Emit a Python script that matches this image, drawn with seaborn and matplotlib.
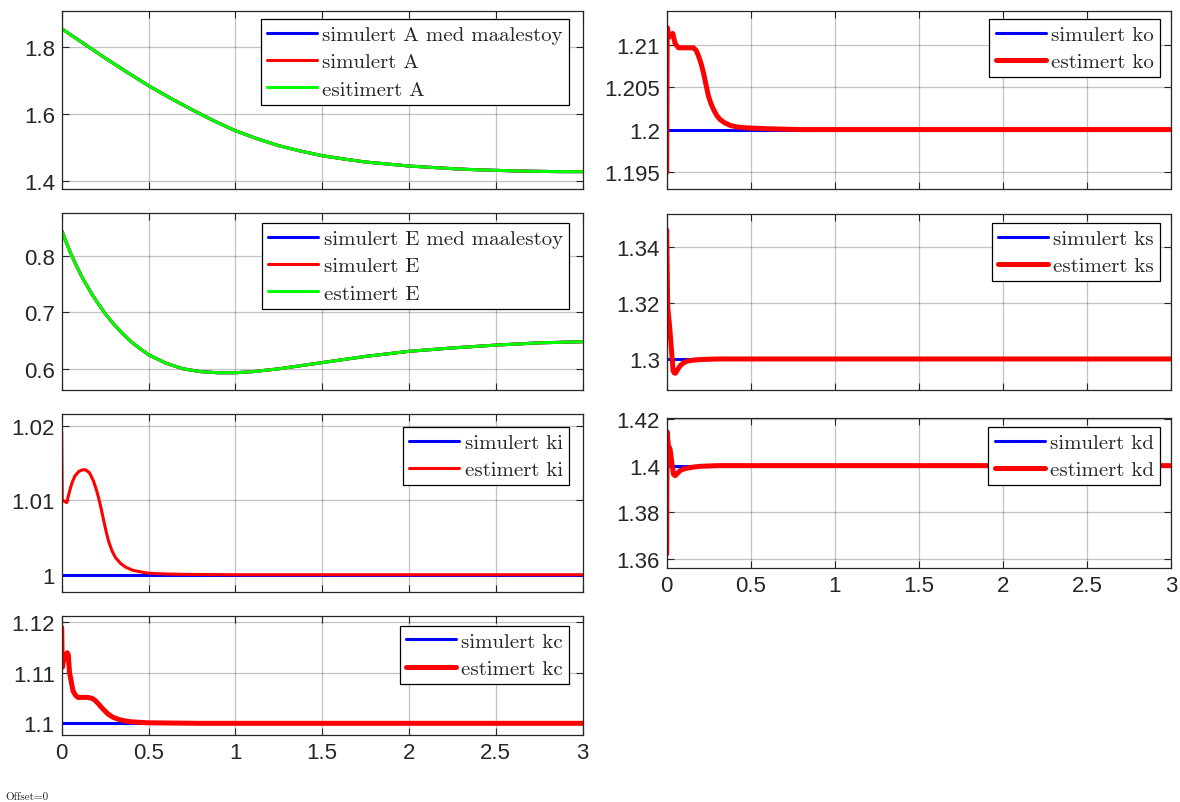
import numpy as np
import pandas as pd
import matplotlib
matplotlib.use("Agg")
import matplotlib.pyplot as plt
import seaborn as sns

# --- data ---
t_A = [0, 0.125, 0.25, 0.375, 0.5, 0.625, 0.75, 0.875, 1.0, 1.125, 1.25, 1.375, 1.5,
       1.625, 1.75, 1.875, 2.0, 2.125, 2.25, 2.375, 2.5, 2.625, 2.75, 2.875, 3.0]
A_est = [1.856, 1.812, 1.768, 1.726, 1.685, 1.648, 1.613, 1.580, 1.550, 1.526, 1.505, 1.489, 1.475,
         1.465, 1.456, 1.450, 1.444, 1.440, 1.436, 1.433, 1.431, 1.429, 1.428, 1.427, 1.427]
A_sim = A_est
A_meas = A_est

t_E = [0, 0.025, 0.05, 0.075, 0.1, 0.125, 0.15, 0.175, 0.2, 0.25, 0.3, 0.35, 0.4, 0.45, 0.5,
       0.6, 0.7, 0.8, 0.9, 1.0, 1.1, 1.25, 1.5, 1.75, 2.0, 2.25, 2.5, 2.75, 3.0]
E_est = [0.845, 0.825, 0.806, 0.789, 0.773, 0.758, 0.745, 0.732, 0.720, 0.698, 0.679, 0.663,
         0.648, 0.636, 0.625, 0.610, 0.600, 0.595, 0.593, 0.593, 0.595, 0.600, 0.611, 0.622,
         0.631, 0.637, 0.642, 0.646, 0.648]
E_sim = E_est
E_meas = E_est

t_ki = [0, 0.003, 0.012, 0.029, 0.045, 0.06, 0.077, 0.1, 0.12, 0.138, 0.16, 0.183, 0.2, 0.212,
        0.226, 0.24, 0.255, 0.27, 0.29, 0.31, 0.34, 0.37, 0.41, 0.45, 0.5, 0.6, 0.7, 1.0, 3.0]
ki_est = [1.0192, 1.0101, 1.0099, 1.0097, 1.0112, 1.0124, 1.0133, 1.0139, 1.0141, 1.0141,
          1.0137, 1.0126, 1.0114, 1.0104, 1.0090, 1.0075, 1.0059, 1.0045, 1.0032, 1.0023,
          1.0015, 1.0010, 1.0006, 1.0004, 1.0002, 1.0001, 1.00005, 1.0, 1.0]

t_kc = [0, 0.003, 0.017, 0.032, 0.038, 0.045, 0.055, 0.065, 0.08, 0.094, 0.12, 0.152, 0.175,
        0.19, 0.21, 0.23, 0.25, 0.268, 0.295, 0.326, 0.36, 0.4, 0.45, 0.5, 0.8, 3.0]
kc_est = [1.1189, 1.1110, 1.1133, 1.1139, 1.1135, 1.1100, 1.1082, 1.1064, 1.1055, 1.1051,
          1.1051, 1.1051, 1.1049, 1.1046, 1.1039, 1.1031, 1.1024, 1.1018, 1.1012, 1.1008,
          1.1005, 1.1003, 1.1002, 1.1001, 1.1, 1.1]

t_ko = [0, 0.003, 0.015, 0.036, 0.05, 0.07, 0.1, 0.13, 0.159, 0.175, 0.19, 0.205, 0.218, 0.233,
        0.248, 0.263, 0.278, 0.297, 0.317, 0.345, 0.377, 0.42, 0.476, 0.6, 0.8, 3.0]
ko_est = [1.1949, 1.2121, 1.2110, 1.2114, 1.2102, 1.2097, 1.2097, 1.2097, 1.2097, 1.2094,
          1.2087, 1.2078, 1.2068, 1.2054, 1.2040, 1.2031, 1.2024, 1.2017, 1.2012, 1.2008,
          1.2005, 1.2003, 1.2002, 1.2001, 1.2, 1.2]

t_ks = [0, 0.006, 0.018, 0.028, 0.038, 0.045, 0.052, 0.065, 0.08, 0.1, 0.12, 0.16, 0.2, 0.3, 3.0]
ks_est = [1.3462, 1.3186, 1.3113, 1.3035, 1.2958, 1.2950, 1.2949, 1.2962, 1.2976, 1.2986,
          1.2992, 1.2996, 1.2998, 1.3, 1.3]

t_kd = [0, 0.002, 0.01, 0.02, 0.03, 0.04, 0.05, 0.065, 0.08, 0.1, 0.12, 0.16, 0.2, 0.3, 3.0]
kd_est = [1.3621, 1.4146, 1.4086, 1.4071, 1.4015, 1.3964, 1.3957, 1.3968, 1.3979, 1.3985,
          1.3989, 1.3994, 1.3997, 1.4, 1.4]

t_const = [0, 3]
ki_sim = [1.0, 1.0]
kc_sim = [1.1, 1.1]
ko_sim = [1.2, 1.2]
ks_sim = [1.3, 1.3]
kd_sim = [1.4, 1.4]

xticks = [0, 0.5, 1, 1.5, 2, 2.5, 3]

sns.set_theme(style="white")
plt.rcParams["font.family"] = ["Liberation Sans", "DejaVu Sans"]

W, H = 1180, 803
fig = plt.figure(figsize=(W / 100, H / 100), dpi=100)

BLUE, RED, GREEN = (0, 0, 1), (1, 0, 0), (0, 1, 0)
DARK = (0.15, 0.15, 0.15)


def make_ax(x0, x1, y0, y1):
    # pixel box (top-left origin) -> figure fraction
    return fig.add_axes([x0 / W, 1 - y1 / H, (x1 - x0) / W, (y1 - y0) / H])


def style(ax, ylim, yticks, show_x, box_px, gap):
    ax.set_xlim(0, 3)
    ax.set_ylim(*ylim)
    ax.set_xticks(xticks)
    ax.set_yticks(yticks)
    ax.set_yticklabels([f"{v:g}" for v in yticks])
    if show_x:
        ax.set_xticklabels([f"{v:g}" for v in xticks])
    else:
        ax.set_xticklabels([])
    ax.grid(True, color="#262626", alpha=0.28, lw=0.9)
    ax.tick_params(direction="in", length=5, width=0.8, colors=DARK, labelsize=16,
                   top=True, right=True, left=True, bottom=True, pad=5)
    for s in ax.spines.values():
        s.set_color(DARK)
        s.set_linewidth(0.9)
    wpx, hpx = box_px
    leg = ax.legend(loc="upper right", bbox_to_anchor=(1 - gap[0] / wpx, 1 - gap[1] / hpx),
                    borderaxespad=0, prop=dict(family="cmr10", size=15), frameon=True,
                    fancybox=False, framealpha=1, edgecolor="black", handlelength=2.4,
                    handletextpad=0.25, labelspacing=0.42, borderpad=0.3)
    leg.get_frame().set_linewidth(0.9)
    ax.set_xlabel("")
    ax.set_ylabel("")


def line(ax, x, y, color, lw, label):
    sns.lineplot(x=x, y=y, ax=ax, color=color, lw=lw, label=label,
                 estimator=None, sort=False)


LX0, LX1 = 61.7, 582.5
RX0, RX1 = 666.7, 1171

# left column
ax = make_ax(LX0, LX1, 11.7, 190)
line(ax, t_A, A_meas, BLUE, 2.2, "simulert A med maalestoy")
line(ax, t_A, A_sim, RED, 2.2, "simulert A")
line(ax, t_A, A_est, GREEN, 2.2, "esitimert A")
style(ax, (1.375, 1.91), [1.4, 1.6, 1.8], False, (LX1 - LX0, 178.3), (13.5, 8.3))

ax = make_ax(LX0, LX1, 214.3, 390.7)
line(ax, t_E, E_meas, BLUE, 2.2, "simulert E med maalestoy")
line(ax, t_E, E_sim, RED, 2.2, "simulert E")
line(ax, t_E, E_est, GREEN, 2.2, "estimert E")
style(ax, (0.563, 0.8756), [0.6, 0.7, 0.8], False, (LX1 - LX0, 176.4), (13.5, 9.7))

ax = make_ax(LX0, LX1, 415, 593.3)
line(ax, t_const, ki_sim, BLUE, 2.2, "simulert ki")
line(ax, t_ki, ki_est, RED, 2.2, "estimert ki")
style(ax, (0.99764, 1.0216), [1, 1.01, 1.02], False, (LX1 - LX0, 178.3), (13.5, 13))

ax = make_ax(LX0, LX1, 616.7, 736)
line(ax, t_const, kc_sim, BLUE, 2.2, "simulert kc")
line(ax, t_kc, kc_est, RED, 3.6, "estimert kc")
style(ax, (1.0977, 1.1212), [1.1, 1.11, 1.12], True, (LX1 - LX0, 119.3), (13.5, 10))

# right column
ax = make_ax(RX0, RX1, 11.7, 190)
line(ax, t_const, ko_sim, BLUE, 2.2, "simulert ko")
line(ax, t_ko, ko_est, RED, 3.6, "estimert ko")
style(ax, (1.19295, 1.2141), [1.195, 1.2, 1.205, 1.21], False, (RX1 - RX0, 178.3), (11, 8.3))

ax = make_ax(RX0, RX1, 215, 390.7)
line(ax, t_const, ks_sim, BLUE, 2.2, "simulert ks")
line(ax, t_ks, ks_est, RED, 3.6, "estimert ks")
style(ax, (1.289, 1.3519), [1.3, 1.32, 1.34], False, (RX1 - RX0, 175.7), (11, 9))

ax = make_ax(RX0, RX1, 419.3, 569)
line(ax, t_const, kd_sim, BLUE, 2.2, "simulert kd")
line(ax, t_kd, kd_est, RED, 3.6, "estimert kd")
style(ax, (1.3561, 1.4203), [1.36, 1.38, 1.4, 1.42], True, (RX1 - RX0, 149.7), (11, 8.7))

fig.text(5 / W, 1 - 797 / H, "Offset=0", family="cmr10", size=8, va="center", ha="left")

fig.savefig("out.png", dpi=100)
